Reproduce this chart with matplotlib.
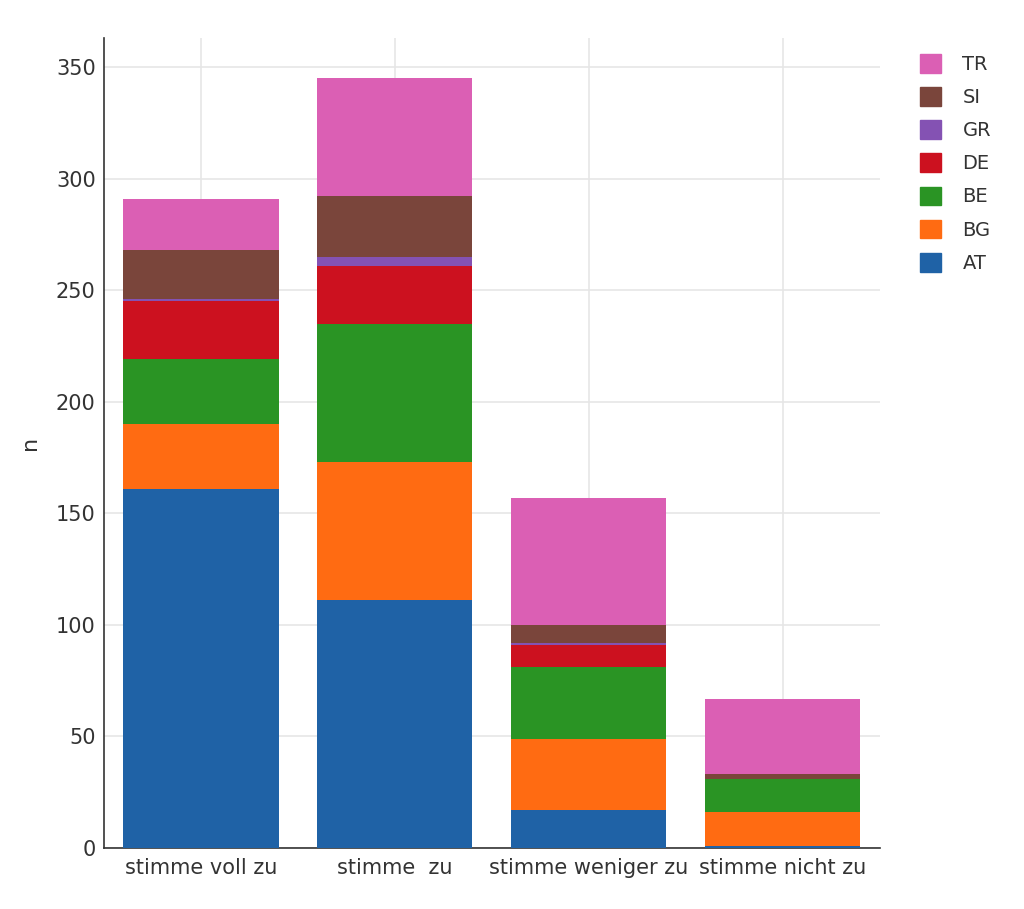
import numpy as np
import matplotlib.pyplot as plt
from matplotlib.patches import Patch

categories = ["stimme voll zu", "stimme  zu", "stimme weniger zu", "stimme nicht zu"]
countries = ["AT", "BG", "BE", "DE", "GR", "SI", "TR"]

AT = [161, 111, 17, 1]
BG = [29, 62, 32, 15]
BE = [29, 62, 32, 15]
DE = [26, 26, 10, 0]
GR = [1, 4, 1, 0]
SI = [22, 27, 8, 2]
TR = [23, 53, 57, 34]

series = [AT, BG, BE, DE, GR, SI, TR]
colors = ["#1f62a6", "#ff6b12", "#2a9424", "#cc111f", "#8452b3", "#7a453b", "#db5fb4"]

plt.rcParams['font.family'] = ['DejaVu Sans']

fig = plt.figure(figsize=(10.24, 9.09), dpi=100)
ax = fig.add_axes([0.1016, 0.0671, 0.7574, 0.8911])

x = np.arange(len(categories))
bottom = np.zeros(len(categories))
for vals, col, name in zip(series, colors, countries):
    ax.bar(x, vals, width=0.8, bottom=bottom, color=col, label=name, zorder=3)
    bottom += np.array(vals)

ax.set_xlim(-0.5, len(categories) - 0.5)
ax.set_ylim(0, 363)
ax.set_yticks(np.arange(0, 351, 50))
ax.set_xticks(x)
ax.set_xticklabels(categories)
ax.set_ylabel("n", fontsize=16, color="#333333")
ax.yaxis.set_label_coords(-0.082, 0.5)

ax.grid(True, color="#e6e6e6", linewidth=1.2, zorder=0)
for s in ["top", "right"]:
    ax.spines[s].set_visible(False)
for s in ["left", "bottom"]:
    ax.spines[s].set_color("#333333")
    ax.spines[s].set_linewidth(1.2)
ax.tick_params(axis="both", length=0, labelsize=15, labelcolor="#333333", pad=7)
ax.tick_params(axis="y", pad=6)

handles = [Patch(color=c, label=n) for c, n in zip(colors, countries)][::-1]
fig.legend(handles=handles, loc="upper left", bbox_to_anchor=(0.881, 0.96),
           frameon=False, fontsize=14, handlelength=1.1, handleheight=1.1,
           labelspacing=0.68, handletextpad=1.1, labelcolor="#333333")

fig.savefig("out.png", dpi=100)
